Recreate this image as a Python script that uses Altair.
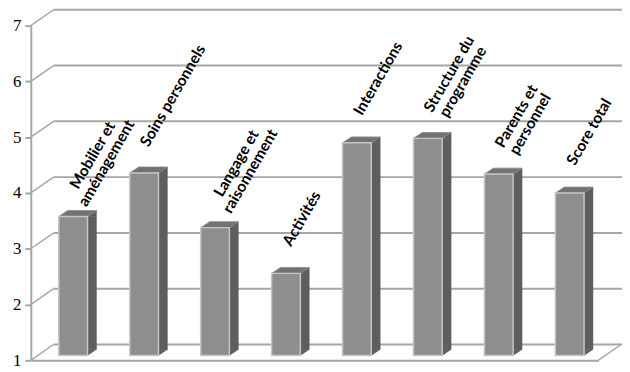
import altair as alt
import pandas as pd

# ---- data ----
categories = [
    "Mobilier et\naménagement",
    "Soins personnels",
    "Langage et\nraisonnement",
    "Activités",
    "Interactions",
    "Structure du\nprogramme",
    "Parents et\npersonnel",
    "Score total",
]
values = [3.49, 4.27, 3.29, 2.47, 4.81, 4.89, 4.25, 3.91]
y_ticks = [1, 2, 3, 4, 5, 6, 7]

# ---- layout / style ----
W, H = 573, 338
BACK_DX, BACK_DY = 23, -16
BAR_W = 29
BAR_SHIFT = 7
FACE_DX, FACE_DY = 9, -6
LIFT = -5
GRID = "#a6a6a6"
FRONT = "#8e8e8e"
FRONT_EDGE = "#c6c6c6"
SIDE = "#5e5e5e"
TOP = "#727272"
CHAR_W = 7.5

df = pd.DataFrame({
    "cat": categories,
    "value": values,
    "nch": [max(len(s) for s in c.split("\n")) for c in categories],
})
grid = pd.DataFrame({"v": y_ticks})

xscale = alt.Scale(type="band", domain=categories, paddingInner=0, paddingOuter=0)
yscale = alt.Scale(domain=[1, 7], nice=False, zero=False)

xaxis = alt.Axis(labels=False, ticks=False, title=None, grid=False,
                 domainColor=GRID, domainWidth=2)
yaxis = alt.Axis(values=y_ticks, title=None, grid=False, format="d",
                 domainColor=GRID, domainWidth=2, tickColor=GRID, tickWidth=2,
                 tickSize=6, labelFont="Liberation Serif", labelFontSize=17,
                 labelColor="black", labelPadding=4)

X = alt.X("cat:N", scale=xscale, sort=categories, axis=xaxis)
Yv = alt.Y("value:Q", scale=yscale, axis=yaxis)
Yg = alt.Y("v:Q", scale=yscale, axis=yaxis)

# back wall gridlines
back_grid = alt.Chart(grid).mark_rule(color=GRID, strokeWidth=2, yOffset=BACK_DY).encode(
    x=alt.value(BACK_DX), x2=alt.value(W + BACK_DX + 1), y=Yg)

# left wall diagonals
left_diag = alt.Chart(grid).mark_rule(color=GRID, strokeWidth=1.5, y2Offset=BACK_DY).encode(
    x=alt.value(0), x2=alt.value(BACK_DX), y=Yg, y2="v:Q")

# right edge of the floor
floor_diag = alt.Chart(grid).transform_filter("datum.v == 1").mark_rule(
    color=GRID, strokeWidth=1.5, y2Offset=BACK_DY).encode(
    x=alt.value(W), x2=alt.value(W + BACK_DX), y=Yg, y2="v:Q")

hw = BAR_W / 2
side_x = BAR_SHIFT + hw + FACE_DX / 2

# side face: rectangle + two triangles
side_rect = alt.Chart(df).mark_bar(
    size=FACE_DX, xOffset=side_x, yOffset=LIFT, y2Offset=LIFT + FACE_DY,
    color=SIDE, stroke=SIDE, strokeWidth=0.5).encode(
    x=X, y=Yv, y2=alt.datum(1))

side_top = alt.Chart(df).mark_point(
    shape=f"M {hw} 0 L {hw + FACE_DX} {FACE_DY} L {hw + FACE_DX} 0 Z",
    size=4, filled=True, opacity=1, color=SIDE, stroke=SIDE, strokeWidth=0.5,
    xOffset=BAR_SHIFT, yOffset=LIFT).encode(x=X, y=Yv)

side_bot = alt.Chart(df).mark_point(
    shape=f"M {hw} {FACE_DY} L {hw} 0 L {hw + FACE_DX} {FACE_DY} Z",
    size=4, filled=True, opacity=1, color=SIDE, stroke=SIDE, strokeWidth=0.5,
    xOffset=BAR_SHIFT, yOffset=LIFT).encode(x=X, y=alt.datum(1))

# top face
top_face = alt.Chart(df).mark_point(
    shape=f"M {-hw} 0 L {hw} 0 L {hw + FACE_DX} {FACE_DY} L {-hw + FACE_DX} {FACE_DY} Z",
    size=4, filled=True, opacity=1, color=TOP, stroke="#8a8a8a", strokeWidth=0.8,
    xOffset=BAR_SHIFT, yOffset=LIFT).encode(x=X, y=Yv)

# front face
front = alt.Chart(df).mark_bar(
    size=BAR_W, xOffset=BAR_SHIFT, yOffset=LIFT, y2Offset=LIFT,
    color=FRONT, stroke=FRONT_EDGE, strokeWidth=1.5).encode(
    x=X, y=Yv, y2=alt.datum(1))

# rotated category labels above the bars (lines centred on each other)
labels = alt.Chart(df).mark_text(
    angle=300, align="center", baseline="bottom", lineBreak="\n", lineHeight=16,
    font="Lato", fontSize=15.5, fontWeight="bold", color="black",
    xOffset=BAR_SHIFT + 6, yOffset=LIFT - 22,
    dx={"expr": f"datum.nch * {CHAR_W / 2}"}).encode(x=X, y=Yv, text="cat:N")

chart = alt.layer(
    back_grid, left_diag, floor_diag, side_rect, side_top, side_bot, top_face, front, labels
).properties(
    width=W, height=H,
    autosize=alt.AutoSizeParams(type="none"),
    padding={"left": 23, "top": 16, "right": 24, "bottom": 10},
).configure_view(stroke=None)

chart.save("out.html", embed_options={"renderer": "svg", "actions": False})
